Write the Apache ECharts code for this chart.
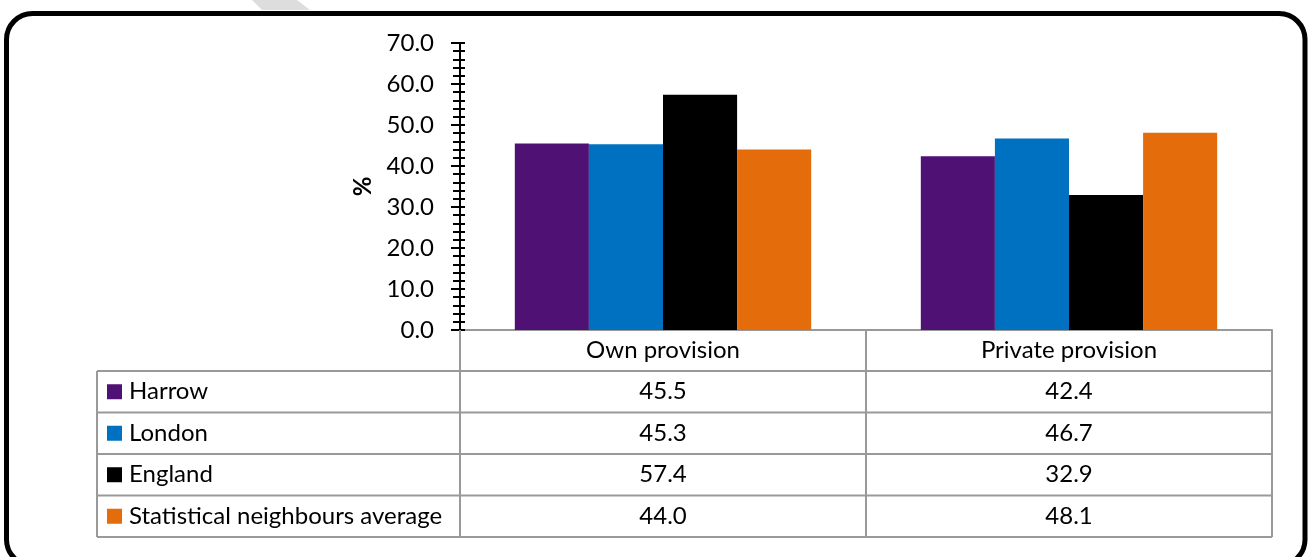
<!DOCTYPE html>
<html>
<head>
<meta charset="utf-8">
<script src="https://cdn.jsdelivr.net/npm/echarts@6/dist/echarts.min.js"></script>
<style>
html,body{margin:0;padding:0;background:#fff;}
#c{width:1308px;height:557px;}
</style>
</head>
<body>
<div id="c"></div>
<script>
const categories = ['Own provision', 'Private provision'];
const seriesNames = ['Harrow', 'London', 'England', 'Statistical neighbours average'];
const harrow = [45.5, 42.4];
const london = [45.3, 46.7];
const england = [57.4, 32.9];
const statNeighbours = [44.0, 48.1];
const colors = ['#4F1274', '#0070C0', '#000000', '#E46C0A'];
const yTicks = [0, 10, 20, 30, 40, 50, 60, 70];

const seriesData = [harrow, london, england, statNeighbours];
const FONT = 'Lato';
const FS = 24;
const gridLeft = 460, gridRight = 36, gridTop = 43, gridBottom = 227;
const W = 1308, H = 557;
const tableLeft = 97, headerBottom = 371, rowH = 41.5;
const gridColor = '#999999';

const chart = echarts.init(document.getElementById('c'), null, {renderer: 'canvas'});

const axisCommon = {
  type: 'value', min: yTicks[0], max: yTicks[yTicks.length - 1], interval: 10,
  position: 'left',
  splitLine: {show: false},
};

chart.setOption({
  animation: false,
  backgroundColor: '#fff',
  grid: {left: gridLeft, right: gridRight, top: gridTop, bottom: gridBottom, containLabel: false},
  xAxis: {
    type: 'category', data: categories,
    axisLine: {show: true, lineStyle: {color: gridColor, width: 2}},
    axisTick: {show: false},
    axisLabel: {show: true, color: '#000', fontFamily: FONT, fontSize: FS, margin: 8}
  },
  yAxis: [
    Object.assign({}, axisCommon, {
      name: '%', nameLocation: 'middle', nameGap: 84, nameRotate: 90,
      nameTextStyle: {color: '#000', fontFamily: FONT, fontSize: FS, fontWeight: 'bold'},
      axisLine: {show: true, lineStyle: {color: '#000', width: 2}},
      axisTick: {show: true, inside: false, length: 9, lineStyle: {color: '#000', width: 2}},
      minorTick: {show: true, splitNumber: 5, length: 7, lineStyle: {color: '#000', width: 2}},
      axisLabel: {color: '#000', fontFamily: FONT, fontSize: FS, margin: 26,
        formatter: v => v.toFixed(1)}
    }),
    Object.assign({}, axisCommon, {
      axisLine: {show: false},
      axisTick: {show: true, inside: true, length: 5, lineStyle: {color: '#000', width: 2}},
      minorTick: {show: true, splitNumber: 5, length: 5, lineStyle: {color: '#000', width: 2}},
      axisLabel: {show: false}
    })
  ],
  series: seriesNames.map((n, i) => ({
    name: n, type: 'bar', data: seriesData[i], yAxisIndex: 0,
    itemStyle: {color: colors[i]},
    barGap: '0%', barCategoryGap: '27%'
  }))
});

// Build data table graphics
const g = [];
const plotRight = W - gridRight;
const axisY = H - gridBottom;
const tableBottom = headerBottom + rowH * seriesNames.length;
const line = (x1, y1, x2, y2) => ({
  type: 'line', shape: {x1, y1, x2, y2},
  style: {stroke: gridColor, lineWidth: 2}, z: 10
});
const boundaries = [gridLeft];
categories.forEach((c, i) => boundaries.push(gridLeft + (plotRight - gridLeft) * (i + 1) / categories.length));
boundaries.forEach(x => g.push(line(x, axisY, x, tableBottom)));
g.push(line(tableLeft, headerBottom, tableLeft, tableBottom));
for (let r = 0; r <= seriesNames.length; r++) {
  const y = headerBottom + rowH * r;
  g.push(line(tableLeft, y, plotRight, y));
}
seriesNames.forEach((n, r) => {
  const cy = headerBottom + rowH * r + rowH / 2;
  g.push({type: 'rect', shape: {x: 107, y: cy - 7.5, width: 15, height: 15},
    style: {fill: colors[r]}, z: 11});
  g.push({type: 'text', x: 129, y: cy,
    style: {text: n, fill: '#000', font: `${FS}px ${FONT}`, textVerticalAlign: 'middle', textAlign: 'left'}, z: 11});
  categories.forEach((c, ci) => {
    const cx = chart.convertToPixel({xAxisIndex: 0}, c);
    g.push({type: 'text', x: cx, y: cy,
      style: {text: seriesData[r][ci].toFixed(1), fill: '#000', font: `${FS}px ${FONT}`,
        textAlign: 'center', textVerticalAlign: 'middle'}, z: 11});
  });
});
g.push({type: 'polygon', shape: {points: [[252, 0], [297, 0], [310, 10], [262, 10]]},
  style: {fill: '#DDDDDD'}, z: 1});
g.push({type: 'rect', shape: {x: 6.5, y: 13.5, width: 1298.5, height: 552, r: 26},
  style: {fill: 'none', stroke: '#000', lineWidth: 5}, z: 20});
chart.setOption({graphic: g});
</script>
</body>
</html>
